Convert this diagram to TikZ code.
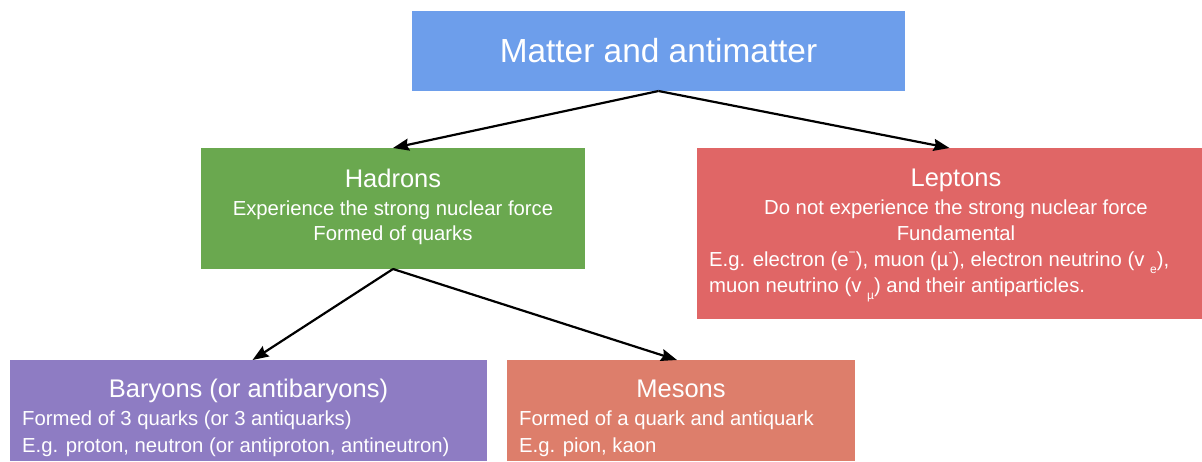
\documentclass[tikz,border=0pt]{standalone}
\usepackage{fontspec}
\setmainfont{Liberation Sans}
\usetikzlibrary{arrows.meta}
\definecolor{cblue}{HTML}{6D9EEB}
\definecolor{cgreen}{HTML}{6AA84F}
\definecolor{cred}{HTML}{E06666}
\definecolor{cpurple}{HTML}{8E7CC3}
\definecolor{corange}{HTML}{DD7E6B}
\newcommand{\subtxt}[1]{\raisebox{-0.35em}{\fontsize{12}{12}\selectfont #1}}
\newcommand{\suptxt}[1]{\raisebox{0.45em}{\fontsize{12}{12}\selectfont #1}}
\begin{document}
\begin{tikzpicture}[x=1pt,y=-1pt,
  box/.style={draw=none, inner sep=0pt, outer sep=0pt, anchor=north west},
  lbl/.style={text=white, inner sep=0pt, anchor=base},
  lbll/.style={text=white, inner sep=0pt, anchor=base west},
  ttl/.style={font=\fontsize{25.5}{30}\selectfont},
  sub/.style={font=\fontsize{20.3}{24}\selectfont},
  arr/.style={-{Stealth[length=16pt,width=12pt,inset=2pt]}, line width=2.2pt, black}]
\useasboundingbox (0,0) rectangle (1202,461);
% boxes
\node[box, fill=cblue, minimum width=493pt, minimum height=80pt] (top) at (412,11) {};
\node[box, fill=cgreen, minimum width=384pt, minimum height=121pt] (had) at (201,148) {};
\node[box, fill=cred, minimum width=505pt, minimum height=171pt] (lep) at (697,148) {};
\node[box, fill=cpurple, minimum width=477pt, minimum height=101pt] (bar) at (10,360) {};
\node[box, fill=corange, minimum width=348pt, minimum height=101pt] (mes) at (507,360) {};
% texts
\node[lbl, font=\fontsize{33.4}{40}\selectfont] (ttop) at (658.5,62) {Matter and antimatter};
\node[lbl, ttl] (thad) at (393,187) {Hadrons};
\node[lbl, sub] (thad1) at (393,215) {Experience the strong nuclear force};
\node[lbl, sub] (thad2) at (393,240) {Formed of quarks};
\node[lbl, ttl] (tlep) at (956,186) {Leptons};
\node[lbl, sub] (tlep1) at (956,214) {Do not experience the strong nuclear force};
\node[lbl, sub] (tlep2) at (956,240) {Fundamental};
\node[lbll, sub] (tlep3) at (709,266) {E.g. electron (e\suptxt{−}), muon (µ\suptxt{-}), electron neutrino (v \subtxt{e}),};
\node[lbll, sub] (tlep4) at (709,292) {muon neutrino (v \subtxt{µ}) and their antiparticles.};
\node[lbl, ttl] (tbar) at (248.5,397) {Baryons (or antibaryons)};
\node[lbll, sub] (tbar1) at (22,425) {Formed of 3 quarks (or 3 antiquarks)};
\node[lbll, sub] (tbar2) at (22,452) {E.g. proton, neutron (or antiproton, antineutron)};
\node[lbl, ttl] (tmes) at (681,397) {Mesons};
\node[lbll, sub] (tmes1) at (519,425) {Formed of a quark and antiquark};
\node[lbll, sub] (tmes2) at (519,452) {E.g. pion, kaon};
% connectors
\draw[arr] (top.south) -- (had.north);
\draw[arr] (top.south) -- (lep.north);
\draw[arr] (had.south) -- ([xshift=4pt]bar.north);
\draw[arr] (had.south) -- ([xshift=-4pt]mes.north);
\end{tikzpicture}
\end{document}
